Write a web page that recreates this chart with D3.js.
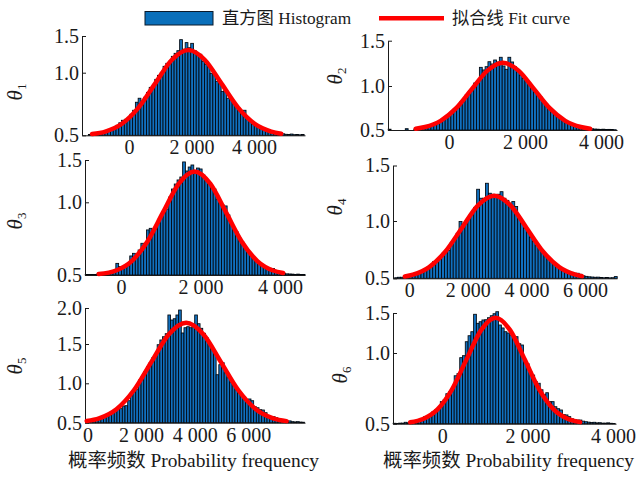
<!DOCTYPE html>
<html><head><meta charset="utf-8">
<script src="https://cdn.jsdelivr.net/npm/d3@7"></script>
<style>
body{margin:0;background:#fff;}
svg{display:block;}
</style></head><body>
<svg id="chart" width="636" height="477"></svg>
<script>
// ---------------- data ----------------
const panelSubs = ["1","2","3","4","5","6"];
const xDomains = [[-1504,5632],[-1605,4421],[-906,4629],[-556,7092],[-93,8116],[-1153,4070]];
const xTickValues = [[0,2000,4000],[0,2000,4000],[0,2000,4000],[0,2000,4000,6000],[0,2000,4000,6000],[0,2000,4000]];
const yTickValues = [[0.5,1.0,1.5],[0.5,1.0,1.5],[0.5,1.0,1.5],[0.5,1.0,1.5],[0.5,1.0,1.5,2.0],[0.5,1.0,1.5]];
const binStarts = [-1300,-1600,-900,-500,0,-1150];
const binWidths = [88.5,75,70,100,100,65];

const counts1 = [0.506,0.508,0.512,0.516,0.524,0.528,0.538,0.540,0.554,0.560,
 0.580,0.600,0.620,0.628,0.636,0.668,0.700,0.764,0.796,0.764,
 0.804,0.843,0.883,0.891,0.947,0.979,1.005,1.087,1.128,1.155,
 1.223,1.264,1.300,1.450,1.320,1.410,1.340,1.400,1.300,1.237,
 1.251,1.155,1.114,1.101,0.995,1.005,0.931,0.931,0.851,0.859,
 0.796,0.788,0.764,0.740,0.716,0.676,0.700,0.636,0.620,0.588,
 0.580,0.572,0.556,0.544,0.540,0.528,0.524,0.520,0.516,0.516,
 0.512,0.508,0.506,0.510,0.505,0.506,0.504,0.506];
const counts2 = [0.509,0.500,0.500,0.500,0.500,0.500,0.515,0.500,0.500,0.509,
 0.514,0.517,0.528,0.534,0.551,0.557,0.574,0.591,0.602,0.631,
 0.642,0.682,0.705,0.739,0.778,0.818,0.841,0.898,0.932,0.966,
 1.033,1.055,1.206,1.177,1.213,1.268,1.243,1.287,1.265,1.317,
 1.221,1.184,1.317,1.265,1.213,1.177,1.121,1.085,1.066,1.022,
 0.989,0.932,0.909,0.875,0.818,0.795,0.750,0.727,0.682,0.659,
 0.642,0.614,0.591,0.580,0.563,0.551,0.545,0.534,0.525,0.523,
 0.517,0.514,0.511,0.509,0.507,0.509,0.506,0.507,0.505,0.503];
const counts3 = [0.503,0.503,0.504,0.503,0.506,0.507,0.508,0.510,0.517,0.521,
 0.528,0.580,0.558,0.558,0.565,0.576,0.631,0.649,0.638,0.672,
 0.718,0.706,0.810,0.821,0.789,0.816,0.858,0.913,0.933,0.954,
 1.063,1.157,1.216,1.264,1.299,1.477,1.370,1.417,1.441,1.346,
 1.405,1.394,1.323,1.264,1.228,1.181,1.157,1.039,0.995,0.981,
 0.975,0.913,0.858,0.823,0.796,0.754,0.727,0.693,0.665,0.638,
 0.617,0.596,0.583,0.569,0.555,0.545,0.546,0.545,0.524,0.521,
 0.515,0.512,0.508,0.507,0.506,0.504,0.506,0.503,0.504];
const counts4 = [0.505,0.509,0.509,0.516,0.519,0.531,0.531,0.539,0.557,0.561,
 0.583,0.587,0.613,0.646,0.648,0.675,0.718,0.736,0.744,0.814,
 0.832,0.893,0.995,0.971,0.997,1.024,1.060,1.123,1.286,1.205,
 1.205,1.340,1.250,1.241,1.223,1.241,1.264,1.205,1.186,1.150,
 1.175,1.130,1.042,0.980,0.936,0.919,0.858,0.823,0.788,0.762,
 0.736,0.701,0.683,0.648,0.622,0.605,0.596,0.579,0.565,0.552,
 0.552,0.544,0.544,0.535,0.522,0.517,0.513,0.511,0.509,0.510,
 0.507,0.505,0.507,0.504,0.505,0.515];
const counts5 = [0.513,0.519,0.525,0.538,0.544,0.557,0.570,0.589,0.602,0.627,
 0.665,0.671,0.678,0.712,0.716,0.779,0.855,0.893,0.919,1.042,
 1.084,1.148,1.211,1.262,1.326,1.364,1.491,1.556,1.601,1.643,
 1.903,1.833,1.851,1.903,1.972,1.653,1.726,1.740,1.726,1.740,
 1.903,1.782,1.718,1.649,1.588,1.510,1.466,1.382,1.109,1.237,
 1.262,1.135,1.071,1.008,0.982,0.919,0.881,0.855,0.830,0.779,
 0.801,0.779,0.703,0.690,0.665,0.661,0.627,0.589,0.576,0.576,
 0.563,0.538,0.538,0.525,0.519,0.523,0.513,0.510,0.513,0.508,
 0.506];
const counts6 = [0.503,0.502,0.504,0.504,0.510,0.506,0.508,0.511,0.518,0.521,
 0.528,0.550,0.557,0.562,0.585,0.599,0.611,0.656,0.668,0.712,
 0.726,0.748,0.839,0.854,0.967,0.981,1.141,1.216,1.266,1.484,
 1.371,1.391,1.413,1.416,1.441,1.466,1.491,1.516,1.350,1.313,
 1.266,1.250,1.225,1.184,1.204,1.116,1.100,0.938,0.924,0.868,
 0.844,0.797,0.786,0.740,0.705,0.719,0.656,0.656,0.620,0.606,
 0.597,0.564,0.562,0.550,0.535,0.528,0.526,0.526,0.518,0.514,
 0.511,0.508,0.510,0.506,0.507,0.504,0.504,0.506,0.503,0.502];

const fitX1 = [-1182,-757,-226,305,836,1367,1898,2429,2960,3491,4022,4553,4872];
const fitY1 = [0.510,0.530,0.592,0.721,0.913,1.173,1.309,1.173,0.913,0.721,0.592,0.530,0.513];
const fitX2 = [-876,-630,-220,190,600,1010,1420,1830,2240,2650,3060,3470,3716];
const fitY2 = [0.515,0.534,0.604,0.748,0.964,1.170,1.257,1.170,0.964,0.748,0.604,0.534,0.515];
const fitX3 = [-560,-125,270,665,1060,1455,1850,2245,2640,3035,3430,3825,4080];
const fitY3 = [0.507,0.531,0.596,0.731,0.932,1.220,1.364,1.220,0.932,0.731,0.596,0.531,0.514];
const fitX4 = [-152,125,680,1235,1790,2345,2900,3455,4010,4565,5120,5675,5897];
const fitY4 = [0.516,0.532,0.598,0.734,0.937,1.141,1.228,1.141,0.937,0.734,0.598,0.532,0.519];
const fitX5 = [-30,430,1080,1730,2380,3030,3680,4330,4980,5630,6280,6930,7430];
const fitY5 = [0.522,0.556,0.672,0.912,1.270,1.633,1.796,1.633,1.270,0.912,0.672,0.556,0.520];
const fitX6 = [-750,-450,-110,230,570,910,1250,1590,1930,2270,2610,2950,3230];
const fitY6 = [0.510,0.533,0.601,0.743,0.955,1.286,1.441,1.286,0.955,0.743,0.601,0.533,0.511];

const legendLabels = ["直方图 Histogram","拟合线 Fit curve"];
const xAxisTitle = "概率频数 Probability frequency";

// ---------------- layout ----------------
const counts = [counts1,counts2,counts3,counts4,counts5,counts6];
const fitXs = [fitX1,fitX2,fitX3,fitX4,fitX5,fitX6];
const fitYs = [fitY1,fitY2,fitY3,fitY4,fitY5,fitY6];
const layout = [
  {x0:82,  x1:305, ty:[135.3,72.7,36],        lab:[16,92]},
  {x0:388, x1:617, ty:[130,86,40.7],          lab:[336,76]},
  {x0:85,  x1:305, ty:[275,202.3,160],        lab:[16,221]},
  {x0:393, x1:617, ty:[278.3,221,165.5],      lab:[336,207]},
  {x0:85,  x1:305, ty:[422.7,383.3,344,308],  lab:[16,366]},
  {x0:393, x1:616, ty:[423.7,353,313],        lab:[341,375]}
];
const SERIF = '"Liberation Serif","Times New Roman","Noto Sans CJK SC",serif';
const BAR_FILL = "#1170bf", BAR_EDGE = "#02070d", RED = "#ff0000";

const svg = d3.select("#chart");
const fmtX = d => d3.format(",")(d).replace(/,/g, " ");

layout.forEach((L, p) => {
  const x = d3.scaleLinear().domain(xDomains[p]).range([L.x0, L.x1]);
  const y = d3.scaleLinear().domain(yTickValues[p]).range(L.ty);
  const base = yTickValues[p][0];
  const g = svg.append("g");
  const s = binStarts[p], w = binWidths[p];

  g.append("g").selectAll("rect").data(counts[p]).join("rect")
    .attr("x", (d, i) => x(s + i * w))
    .attr("width", (d, i) => x(s + (i + 1) * w) - x(s + i * w))
    .attr("y", d => y(d))
    .attr("height", d => y(base) - y(d))
    .attr("fill", BAR_FILL)
    .attr("stroke", BAR_EDGE)
    .attr("stroke-width", 0.85);

  const ax = g.append("g").attr("transform", `translate(${L.x0},0)`)
    .call(d3.axisLeft(y).tickValues(yTickValues[p]).tickFormat(d3.format(".1f"))
      .tickSizeInner(-4).tickSizeOuter(0).tickPadding(3));
  const bx = g.append("g").attr("transform", `translate(0,${y(base)})`)
    .call(d3.axisBottom(x).tickValues(xTickValues[p]).tickFormat(fmtX)
      .tickSize(0).tickPadding(5));
  [ax, bx].forEach(a => {
    a.attr("font-family", SERIF).attr("font-size", 20).attr("color", "#1a1a1a");
    a.selectAll("path,line").attr("stroke-width", 1);
  });

  const pts = fitXs[p].map((v, i) => [v, fitYs[p][i]]);
  g.append("path").datum(pts)
    .attr("d", d3.line().x(d => x(d[0])).y(d => y(d[1])).curve(d3.curveMonotoneX))
    .attr("fill", "none").attr("stroke", RED).attr("stroke-width", 4.5)
    .attr("stroke-linecap", "round");

  const t = svg.append("text")
    .attr("transform", `translate(${L.lab[0]},${L.lab[1]}) rotate(-90)`)
    .attr("text-anchor", "middle").attr("dy", "0.35em")
    .attr("font-family", SERIF).attr("fill", "#1a1a1a");
  t.append("tspan").attr("font-style", "italic").attr("font-size", 21).text("θ");
  t.append("tspan").attr("font-size", 13).attr("dy", 4).text(panelSubs[p]);
});

// x-axis titles
[[68, 467], [383, 467]].forEach(pos => {
  svg.append("text").attr("x", pos[0]).attr("y", pos[1])
    .attr("font-family", SERIF).attr("font-size", 19.4).attr("fill", "#1a1a1a")
    .text(xAxisTitle);
});

// legend
const lg = svg.append("g");
lg.append("rect").attr("x", 145).attr("y", 11.5).attr("width", 68).attr("height", 13.5)
  .attr("fill", "#0a6fba").attr("stroke", "#0b1a2a").attr("stroke-width", 1);
lg.append("text").attr("x", 222).attr("y", 24).attr("font-family", SERIF)
  .attr("font-size", 17.3).attr("fill", "#1a1a1a").text(legendLabels[0]);
lg.append("line").attr("x1", 379).attr("x2", 444).attr("y1", 18.3).attr("y2", 18.3)
  .attr("stroke", RED).attr("stroke-width", 4.5);
lg.append("text").attr("x", 452).attr("y", 24).attr("font-family", SERIF)
  .attr("font-size", 17.3).attr("fill", "#1a1a1a").text(legendLabels[1]);
</script>
</body></html>
